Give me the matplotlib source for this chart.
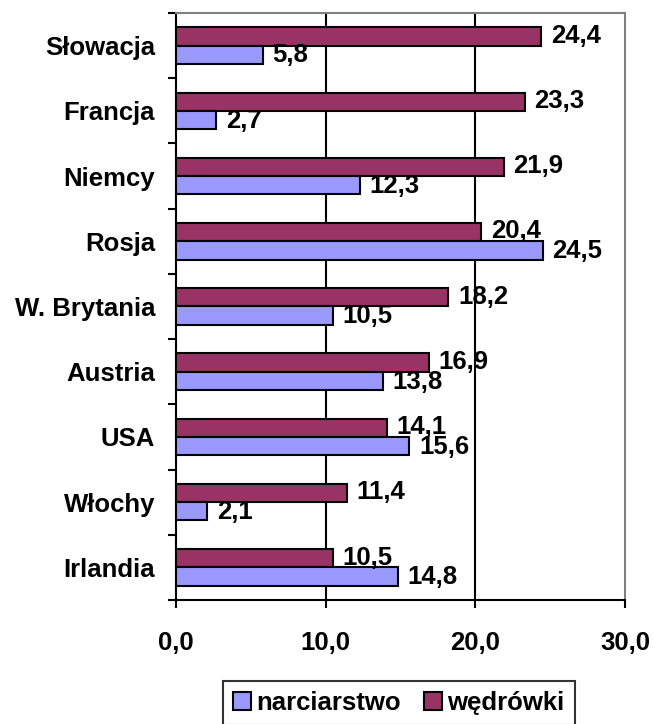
import matplotlib
matplotlib.use("Agg")
import matplotlib.pyplot as plt
import numpy as np

categories = ["Słowacja", "Francja", "Niemcy", "Rosja", "W. Brytania", "Austria", "USA", "Włochy", "Irlandia"]
narciarstwo = [5.8, 2.7, 12.3, 24.5, 10.5, 13.8, 15.6, 2.1, 14.8]
wedrowki = [24.4, 23.3, 21.9, 20.4, 18.2, 16.9, 14.1, 11.4, 10.5]
xticks = [0, 10, 20, 30]
xticklabels = ["0,0", "10,0", "20,0", "30,0"]

plt.rcParams['font.family'] = ['Liberation Sans', 'DejaVu Sans']
fig = plt.figure(figsize=(6.54, 7.24), dpi=100)
ax = fig.add_axes([176/654, 1-600/724, (625-176)/654, (600-13)/724])

n = len(categories)
y = np.arange(n)
h = 0.28
c_n = "#9999FF"
c_w = "#993366"
ax.barh(y - h/2, wedrowki, height=h, color=c_w, edgecolor="black", linewidth=1.5, zorder=3, label="wędrówki")
ax.barh(y + h/2, narciarstwo, height=h, color=c_n, edgecolor="black", linewidth=1.5, zorder=3, label="narciarstwo")

fs = 18.5
for i in range(n):
    ax.annotate(f"{wedrowki[i]:.1f}".replace(".", ","), (wedrowki[i], y[i] - h/2), xytext=(7, 0.5),
                textcoords="offset points", va="center", ha="left", fontsize=fs, fontweight="bold", zorder=4)
    ax.annotate(f"{narciarstwo[i]:.1f}".replace(".", ","), (narciarstwo[i], y[i] + h/2), xytext=(7, -0.5),
                textcoords="offset points", va="center", ha="left", fontsize=fs, fontweight="bold", zorder=4)

ax.set_xlim(0, 30)
ax.set_ylim(n - 0.5, -0.5)
ax.set_xticks(xticks)
ax.set_xticklabels(xticklabels, fontsize=fs, fontweight="bold")
ax.set_yticks(y)
ax.set_yticklabels(categories, fontsize=fs, fontweight="bold")
ax.tick_params(axis="y", length=0, pad=15)
ax.set_yticks(np.arange(n + 1) - 0.5, minor=True)
ax.tick_params(axis="y", which="minor", length=6, width=1.5, direction="out")
ax.tick_params(axis="x", length=6, width=1.5, direction="out", pad=16)

for xv in xticks[1:-1]:
    ax.axvline(xv, color="black", linewidth=1.5, zorder=1)

ax.spines["left"].set_linewidth(1.5)
ax.spines["bottom"].set_linewidth(1.5)
ax.spines["top"].set_color("#808080")
ax.spines["right"].set_color("#808080")
ax.spines["top"].set_linewidth(1.5)
ax.spines["right"].set_linewidth(1.5)

handles, labels = ax.get_legend_handles_labels()
leg = fig.legend([handles[1], handles[0]], [labels[1], labels[0]], loc="center", bbox_to_anchor=(399/654, 1-703/724),
                 ncol=2, frameon=True, fancybox=False, edgecolor="black", prop={"weight": "bold", "size": fs},
                 handlelength=0.7, handleheight=0.7, handletextpad=0.2, columnspacing=0.9, borderpad=0.4)
leg.get_frame().set_linewidth(1.5)

fig.savefig("out.png", dpi=100)
